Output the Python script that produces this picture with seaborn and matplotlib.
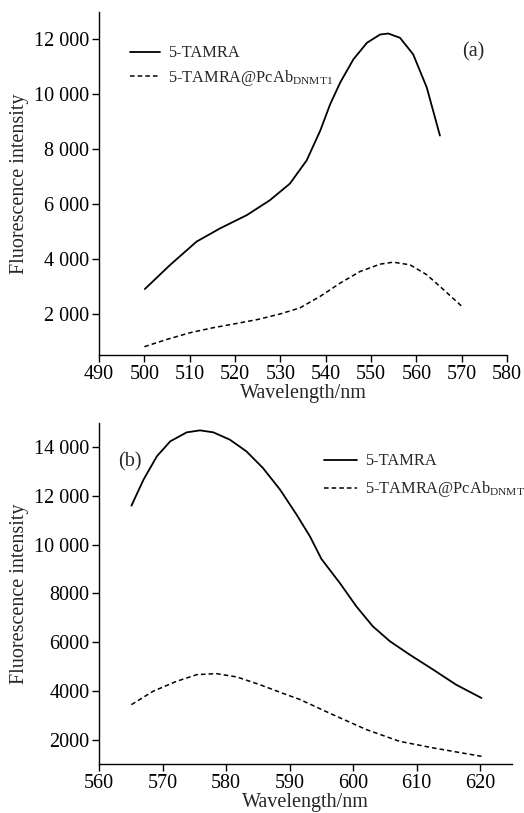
import matplotlib
matplotlib.use("Agg")
import matplotlib.pyplot as plt
import seaborn as sns

sns.set_theme(style="ticks")
plt.rcParams["font.family"] = ["Liberation Serif", "DejaVu Serif"]
plt.rcParams["mathtext.fontset"] = "custom"
plt.rcParams["mathtext.rm"] = "Liberation Serif"

# panel (a)
wl_a_free = [500.1, 505.7, 511.5, 516.7, 522.6, 527.7, 532.1, 535.8, 538.8, 541.0,
             543.2, 546.1, 549.1, 552.0, 553.8, 556.4, 559.3, 562.3, 565.2]
int_a_free = [2906, 3786, 4632, 5116, 5599, 6143, 6746, 7592, 8679, 9645,
              10430, 11275, 11879, 12181, 12217, 12060, 11457, 10248, 8498]
wl_a_bound = [500, 505, 510, 515, 520, 525, 530, 534.3, 538.8, 543.2, 547.6,
              552.0, 554.9, 558.6, 562.3, 566.0, 570.4]
int_a_bound = [804, 1070, 1310, 1490, 1640, 1795, 2000, 2217, 2640, 3123, 3546,
               3812, 3884, 3788, 3425, 2882, 2217]
yticks_a = [2000, 4000, 6000, 8000, 10000, 12000]
ylabels_a = ["2 000", "4 000", "6 000", "8 000", "10 000", "12 000"]
xticks_a = [490, 500, 510, 520, 530, 540, 550, 560, 570, 580]

# panel (b)
wl_b_free = [565.1, 567.0, 569.1, 571.2, 573.8, 575.9, 578.0, 580.6, 583.2, 585.8,
             588.5, 591.1, 593.2, 595.0, 597.9, 600.5, 603.1, 605.8, 608.9, 612.6,
             616.2, 620.2]
int_b_free = [11606, 12673, 13631, 14246, 14616, 14698, 14616, 14315, 13836, 13152,
              12263, 11236, 10346, 9420, 8432, 7472, 6651, 6036, 5489, 4873,
              4257, 3710]
wl_b_bound = [565.1, 568.5, 572.2, 575.4, 578.5, 581.7, 585.3, 589.5, 591.6, 596.8,
              602.1, 607.3, 612.6, 620.2]
int_b_bound = [3436, 3984, 4394, 4668, 4709, 4572, 4257, 3847, 3650, 3026,
               2410, 1930, 1659, 1314]
yticks_b = [2000, 4000, 6000, 8000, 10000, 12000, 14000]
ylabels_b = ["2000", "4000", "6000", "8000", "10 000", "12 000", "14 000"]
xticks_b = [560, 570, 580, 590, 600, 610, 620]

label_free = "5-TAMRA"
label_bound = "5-TAMRA@PcAb$_{\\mathrm{DNMT1}}$"


def draw_panel(ax, wl_free, int_free, wl_bound, int_bound):
    sns.lineplot(x=wl_free, y=int_free, color="black", linewidth=1.3,
                 label=label_free, ax=ax)
    sns.lineplot(x=wl_bound, y=int_bound, color="black", linewidth=1.1,
                 linestyle=(0, (3, 2)), label=label_bound, ax=ax)
    sns.despine(ax=ax)
    for s in ["left", "bottom"]:
        ax.spines[s].set_linewidth(1.0)
        ax.spines[s].set_color("black")
    ax.tick_params(axis="both", direction="out", length=5, width=1,
                   labelsize=14.5, color="black", labelcolor="black", pad=2)
    ax.set_ylabel("Fluorescence intensity", fontsize=14.5, labelpad=4)
    ax.set_xlabel("Wavelength/nm", fontsize=14.5, labelpad=0)


fig = plt.figure(figsize=(5.24, 8.13), dpi=100)

ax_a = fig.add_axes([0.189, 0.5633, 0.7786, 0.4219])
draw_panel(ax_a, wl_a_free, int_a_free, wl_a_bound, int_a_bound)
ax_a.set_xlim(490, 580)
ax_a.set_ylim(500, 13000)
ax_a.set_xticks(xticks_a)
ax_a.set_yticks(yticks_a)
ax_a.set_yticklabels(ylabels_a)
ax_a.legend(loc="upper left", bbox_to_anchor=(0.06, 0.922), frameon=False,
            fontsize=11.8, handlelength=1.8, handletextpad=0.5, labelspacing=0.42,
            borderaxespad=0)
ax_a.text(0.918, 0.885, "(a)", transform=ax_a.transAxes, fontsize=14.5,
          ha="center", va="center")

ax_b = fig.add_axes([0.189, 0.0603, 0.788, 0.4194])
draw_panel(ax_b, wl_b_free, int_b_free, wl_b_bound, int_b_bound)
ax_b.set_xlim(560, 625)
ax_b.set_ylim(1000, 15000)
ax_b.set_xticks(xticks_b)
ax_b.set_yticks(yticks_b)
ax_b.set_yticklabels(ylabels_b)
ax_b.legend(loc="upper left", bbox_to_anchor=(0.53, 0.93), frameon=False,
            fontsize=11.8, handlelength=2.0, handletextpad=0.5, labelspacing=0.6,
            borderaxespad=0)
ax_b.text(0.075, 0.885, "(b)", transform=ax_b.transAxes, fontsize=14.5,
          ha="center", va="center")

fig.savefig("out.png", dpi=100)
plt.close(fig)
